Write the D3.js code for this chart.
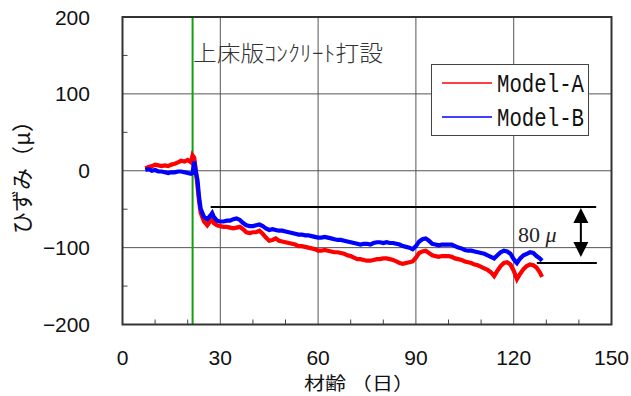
<!DOCTYPE html>
<html><head><meta charset="utf-8">
<script src="https://cdn.jsdelivr.net/npm/d3@7"></script>
<style>body{margin:0;background:#fff}svg{display:block}</style>
</head><body>
<svg id="c" width="631" height="396"></svg>
<script>
const days = [7,8,9,10,11,12,13,14,15,16,17,18,19,20,21,21.5,22,22.5,23,23.5,24,25,26,27,27.5,28,29,30,31,32,33,34,35,36,37,38,39,40,41,42,43,44,45,46,47,48,49,50,51,52,53,54,55,56,57,58,59,60,61,62,63,64,65,66,67,68,69,70,71,72,73,74,75,76,77,78,79,80,81,82,83,84,85,86,87,88,89,90,91,92,93,94,95,96,97,98,99,100,101,102,103,104,105,106,107,108,109,110,111,112,113,114,115,116,117,118,119,120,121,122,123,124,125,126,127,128,128.7];
const modelA = [3,5,6,8,7,6,7,6,8,9,11,13,12,14,11,20,17,0,-20,-40,-55,-66,-71,-65,-63,-68,-71,-72,-73,-73,-74,-75,-74,-73,-76,-80,-81,-80,-80,-78,-82,-87,-91,-90,-88,-91,-92,-93,-94,-95,-96,-98,-98,-99,-100,-101,-102,-104,-104,-103,-104,-105,-106,-106,-107,-108,-110,-111,-113,-115,-115,-116,-117,-117,-116,-115,-115,-114,-114,-115,-116,-118,-120,-121,-120,-119,-118,-113,-107,-105,-104,-107,-110,-111,-112,-111,-111,-111,-112,-114,-115,-116,-118,-119,-120,-122,-123,-125,-127,-129,-132,-137,-130,-124,-120,-119,-122,-130,-141,-134,-128,-124,-122,-123,-126,-132,-138];
const modelB = [1,2,0,1,-1,-1,-2,-3,-2,-2,-1,-1,-2,-3,-4,-3,12,-2,-12,-35,-50,-60,-63,-58,-55,-60,-65,-66,-66,-65,-65,-63,-62,-64,-68,-71,-72,-72,-71,-70,-72,-75,-77,-76,-77,-78,-78,-79,-80,-81,-82,-83,-83,-84,-84,-85,-86,-87,-87,-86,-87,-88,-89,-90,-90,-91,-92,-93,-94,-95,-96,-95,-95,-96,-94,-93,-93,-94,-93,-94,-94,-95,-96,-98,-99,-100,-102,-98,-92,-89,-88,-91,-95,-96,-97,-96,-96,-96,-96,-98,-100,-101,-103,-104,-104,-105,-106,-107,-108,-110,-112,-114,-110,-106,-104,-105,-108,-115,-120,-114,-110,-108,-106,-107,-111,-114,-117];
const seriesNames = ["Model-A","Model-B"];
const xTicks = [0,30,60,90,120,150];
const yTicks = [200,100,0,-100,-200];
const xMinor = [10,20,40,50,70,80,100,110,130,140];
const yMinor = [150,50,-50,-150];
const castDay = 21.5;
const refLines = [{v:-47, d0:27.05, d1:145.3},{v:-120, d0:127.1, d1:145.5}];
const arrowDay = 140.6;

const svg = d3.select("#c");
const x = d3.scaleLinear().domain([0,150]).range([122.5,611.5]);
const y = d3.scaleLinear().domain([-200,200]).range([324.5,17]);
const JP = "'Noto Sans CJK JP', sans-serif";
const NUM = "'Liberation Sans', Arial, sans-serif";

// gridlines
svg.append("g").selectAll("line").data(xTicks.slice(1,-1)).join("line")
  .attr("x1",d=>x(d)).attr("x2",d=>x(d)).attr("y1",y(200)).attr("y2",y(-200))
  .attr("stroke","#555").attr("stroke-width",1);
svg.append("g").selectAll("line").data(yTicks.slice(1,-1)).join("line")
  .attr("x1",x(0)).attr("x2",x(150)).attr("y1",d=>y(d)).attr("y2",d=>y(d))
  .attr("stroke","#555").attr("stroke-width",1);
// minor ticks inside
svg.append("g").selectAll("line").data(xMinor).join("line")
  .attr("x1",d=>x(d)).attr("x2",d=>x(d)).attr("y1",y(-200)).attr("y2",y(-200)-5)
  .attr("stroke","#444").attr("stroke-width",1);
svg.append("g").selectAll("line").data(yMinor).join("line")
  .attr("x1",x(0)).attr("x2",x(0)+5).attr("y1",d=>y(d)).attr("y2",d=>y(d))
  .attr("stroke","#444").attr("stroke-width",1);

// cast line
svg.append("line").attr("x1",x(castDay)).attr("x2",x(castDay)).attr("y1",y(200)).attr("y2",y(-200))
  .attr("stroke","#10a010").attr("stroke-width",2);

// series
const line = d3.line().x((d,i)=>x(days[i])).y(d=>y(d));
svg.append("path").attr("d",line(modelA)).attr("fill","none").attr("stroke","#ff0000").attr("stroke-width",4.2).attr("stroke-linejoin","miter");
svg.append("path").attr("d",line(modelB)).attr("fill","none").attr("stroke","#0000ff").attr("stroke-width",4.2).attr("stroke-linejoin","miter");

// frame
svg.append("rect").attr("x",x(0)).attr("y",y(200)).attr("width",x(150)-x(0)).attr("height",y(-200)-y(200))
  .attr("fill","none").attr("stroke","#333").attr("stroke-width",2);

// tick labels
svg.append("g").selectAll("text").data(yTicks).join("text")
  .attr("x",90).attr("y",d=>y(d)+7.5).attr("text-anchor","end")
  .attr("font-family",NUM).attr("font-size",21).attr("fill","#111")
  .attr("textLength",d=>String(d).replace("-","").length*11.7+(d<0?12:0)).attr("lengthAdjust","spacingAndGlyphs")
  .text(d=>d<0?"−"+Math.abs(d):d);
svg.append("g").selectAll("text").data(xTicks).join("text")
  .attr("x",d=>x(d)).attr("y",365).attr("text-anchor","middle")
  .attr("font-family",NUM).attr("font-size",21).attr("fill","#111")
  .attr("textLength",d=>String(d).length*11.7).attr("lengthAdjust","spacingAndGlyphs")
  .text(d=>d);

// axis titles
svg.append("text").attr("x",359).attr("y",390).attr("text-anchor","middle")
  .attr("font-family",JP).attr("font-size",18).attr("fill","#111")
  .attr("textLength",110).attr("lengthAdjust","spacingAndGlyphs").text("材齢 （日）");
svg.append("text").attr("transform","translate(30,172) rotate(-90)").attr("text-anchor","middle")
  .attr("font-family",JP).attr("font-size",22).attr("fill","#111")
  .attr("textLength",124).attr("lengthAdjust","spacingAndGlyphs").text("ひずみ（μ）");

// annotation
svg.append("text").attr("x",193).attr("y",61)
  .attr("font-family",JP).attr("font-size",22).attr("font-weight",300).attr("fill","#333")
  .attr("textLength",190).attr("lengthAdjust","spacingAndGlyphs")
  .text("上床版ｺﾝｸﾘｰﾄ打設");

// reference lines
svg.append("g").selectAll("line").data(refLines).join("line")
  .attr("x1",d=>x(d.d0)).attr("x2",d=>x(d.d1)).attr("y1",d=>y(d.v)).attr("y2",d=>y(d.v))
  .attr("stroke","#000").attr("stroke-width",2);
const ax = x(arrowDay), ay0 = y(refLines[0].v), ay1 = y(refLines[1].v);
svg.append("line").attr("x1",ax).attr("x2",ax).attr("y1",ay0+8).attr("y2",ay1-12).attr("stroke","#000").attr("stroke-width",2);
svg.append("path").attr("d",`M${ax},${ay0+1}L${ax-7.5},${ay0+16}L${ax+7.5},${ay0+16}Z`).attr("fill","#000");
svg.append("path").attr("d",`M${ax},${ay1-6}L${ax-7.5},${ay1-21}L${ax+7.5},${ay1-21}Z`).attr("fill","#000");
const lab = svg.append("text").attr("x",518).attr("y",242).attr("font-family","'Liberation Serif', serif").attr("font-size",22).attr("fill","#222");
lab.append("tspan").text("80 ");
lab.append("tspan").attr("font-style","italic").text("μ");

// legend
svg.append("rect").attr("x",431.5).attr("y",64.5).attr("width",157).attr("height",71)
  .attr("fill","#fff").attr("stroke","#444").attr("stroke-width",1);
const lg = svg.append("g").selectAll("g").data(seriesNames).join("g")
  .attr("transform",(d,i)=>`translate(0,${83+i*34})`);
lg.append("line").attr("x1",442).attr("x2",492).attr("y1",0).attr("y2",0)
  .attr("stroke",(d,i)=>i?"#0000ff":"#ff0000").attr("stroke-width",1.5);
lg.append("text").attr("x",497).attr("y",9).attr("font-family","'Liberation Mono', monospace").attr("font-size",25).attr("fill","#111")
  .attr("textLength",87).attr("lengthAdjust","spacingAndGlyphs").text(d=>d);
</script>
</body></html>
